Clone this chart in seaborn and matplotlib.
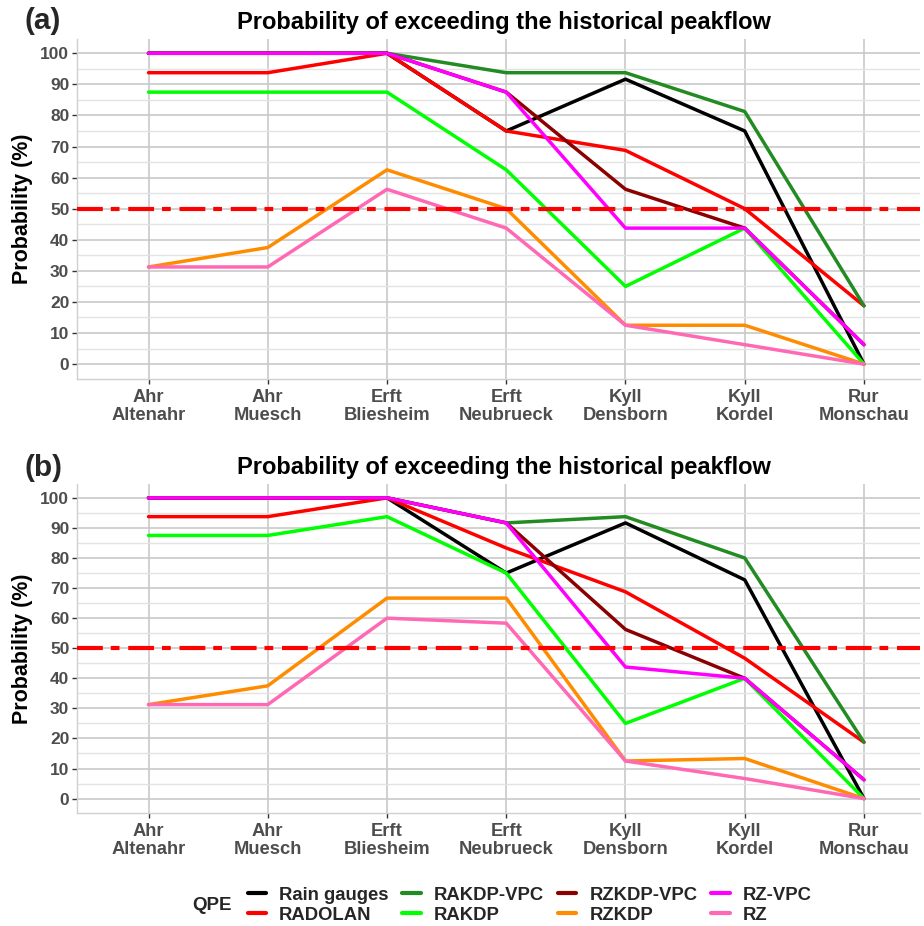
import matplotlib
matplotlib.use("Agg")
import matplotlib.pyplot as plt
from matplotlib.lines import Line2D
import seaborn as sns
import pandas as pd

sns.set_theme(style="white")
plt.rcParams['font.family'] = ['Liberation Sans', 'DejaVu Sans']

stations = ["Ahr\nAltenahr", "Ahr\nMuesch", "Erft\nBliesheim", "Erft\nNeubrueck",
            "Kyll\nDensborn", "Kyll\nKordel", "Rur\nMonschau"]
qpe_names = ["Rain gauges", "RADOLAN", "RAKDP-VPC", "RAKDP",
             "RZKDP-VPC", "RZKDP", "RZ-VPC", "RZ"]
qpe_colors = ["#000000", "#FF0000", "#228B22", "#00FF00",
              "#8B0000", "#FF8C00", "#FF00FF", "#FF69B4"]

# Panel (a)
a_rain_gauges = [100, 100, 100, 75, 91.67, 75, 0]
a_radolan     = [93.75, 93.75, 100, 75, 68.75, 50, 18.75]
a_rakdp_vpc   = [100, 100, 100, 93.75, 93.75, 81.25, 18.75]
a_rakdp       = [87.5, 87.5, 87.5, 62.5, 25, 43.75, 0]
a_rzkdp_vpc   = [100, 100, 100, 87.5, 56.25, 43.75, 6.25]
a_rzkdp       = [31.25, 37.5, 62.5, 50, 12.5, 12.5, 0]
a_rz_vpc      = [100, 100, 100, 87.5, 43.75, 43.75, 6.25]
a_rz          = [31.25, 31.25, 56.25, 43.75, 12.5, 6.25, 0]

# Panel (b)
b_rain_gauges = [100, 100, 100, 75, 91.67, 72.73, 0]
b_radolan     = [93.75, 93.75, 100, 83.33, 68.75, 46.67, 18.75]
b_rakdp_vpc   = [100, 100, 100, 91.67, 93.75, 80, 18.75]
b_rakdp       = [87.5, 87.5, 93.75, 75, 25, 40, 0]
b_rzkdp_vpc   = [100, 100, 100, 91.67, 56.25, 40, 6.25]
b_rzkdp       = [31.25, 37.5, 66.67, 66.67, 12.5, 13.33, 0]
b_rz_vpc      = [100, 100, 100, 91.67, 43.75, 40, 6.25]
b_rz          = [31.25, 31.25, 60, 58.33, 12.5, 6.67, 0]

threshold = 50
title = "Probability of exceeding the historical peakflow"
ylabel = "Probability (%)"
yticks = list(range(0, 101, 10))


def make_df(series):
    rows = []
    for name, vals in zip(qpe_names, series):
        for st, v in zip(stations, vals):
            rows.append({"Station": st, "QPE": name, "Probability": v})
    return pd.DataFrame(rows)


df_a = make_df([a_rain_gauges, a_radolan, a_rakdp_vpc, a_rakdp,
                a_rzkdp_vpc, a_rzkdp, a_rz_vpc, a_rz])
df_b = make_df([b_rain_gauges, b_radolan, b_rakdp_vpc, b_rakdp,
                b_rzkdp_vpc, b_rzkdp, b_rz_vpc, b_rz])

fig = plt.figure(figsize=(9.24, 9.26), dpi=100)
ax_a = fig.add_axes([0.0833, 0.5907, 0.9124, 0.3672])
ax_b = fig.add_axes([0.0833, 0.1220, 0.9124, 0.3553])

palette = dict(zip(qpe_names, qpe_colors))
tick_color = "#4D4D4D"

for ax, df in [(ax_a, df_a), (ax_b, df_b)]:
    ax.set_axisbelow(True)
    sns.lineplot(data=df, x="Station", y="Probability", hue="QPE",
                 hue_order=qpe_names, palette=palette, sort=False,
                 linewidth=2.5, ax=ax, legend=False, zorder=3)
    ax.axhline(threshold, color="#FF0000", linewidth=3.0,
               linestyle=(0, (6.2, 1.9, 2.1, 2.1)), zorder=5)
    ax.set_xlim(-0.6, 6.47)
    ax.set_ylim(-4.8, 104.6)
    ax.set_yticks(yticks)
    ax.set_yticks(list(range(5, 101, 10)), minor=True)
    ax.set_xticks(range(len(stations)))
    ax.set_xticklabels(stations, linespacing=1.05)
    ax.grid(True, which="major", axis="both", color="#C9C9C9", linewidth=1.2, zorder=0)
    ax.grid(True, which="minor", axis="y", color="#E3E3E3", linewidth=1.0, zorder=0)
    for side in ["top", "right"]:
        ax.spines[side].set_visible(False)
    for side in ["left", "bottom"]:
        ax.spines[side].set_color("#D0D0D0")
        ax.spines[side].set_linewidth(1.0)
    ax.tick_params(axis="both", which="major", length=3.5, width=1.0, color="#333333",
                   labelcolor=tick_color, labelsize=12.5, pad=2, bottom=True, left=True)
    ax.tick_params(axis="x", which="major", labelsize=13.2, pad=4)
    ax.tick_params(axis="both", which="minor", length=0)
    for t in ax.get_xticklabels() + ax.get_yticklabels():
        t.set_fontweight("bold")
    ax.set_xlabel("")
    ax.set_ylabel(ylabel, fontsize=15.5, fontweight="bold", color="black", labelpad=5)
    ax.set_title(title, fontsize=17, fontweight="bold", color="black", pad=7, x=0.507)

fig.text(0.026, 0.977, "(a)", fontsize=21.5, fontweight="bold", va="center", ha="left")
fig.text(0.026, 0.495, "(b)", fontsize=21.5, fontweight="bold", va="center", ha="left")

handles = [Line2D([0], [0], color=c, linewidth=3) for c in qpe_colors]
leg = fig.legend(handles, qpe_names, ncol=4, loc="center left",
                 bbox_to_anchor=(0.250, 0.0225), frameon=False,
                 prop={"size": 13.3, "weight": "bold"}, handlelength=1.0,
                 handletextpad=0.7, columnspacing=0.75, labelspacing=0.15)
fig.text(0.208, 0.0225, "QPE", fontsize=13.5, fontweight="bold", va="center", ha="left")

fig.savefig("out.png", dpi=100)
